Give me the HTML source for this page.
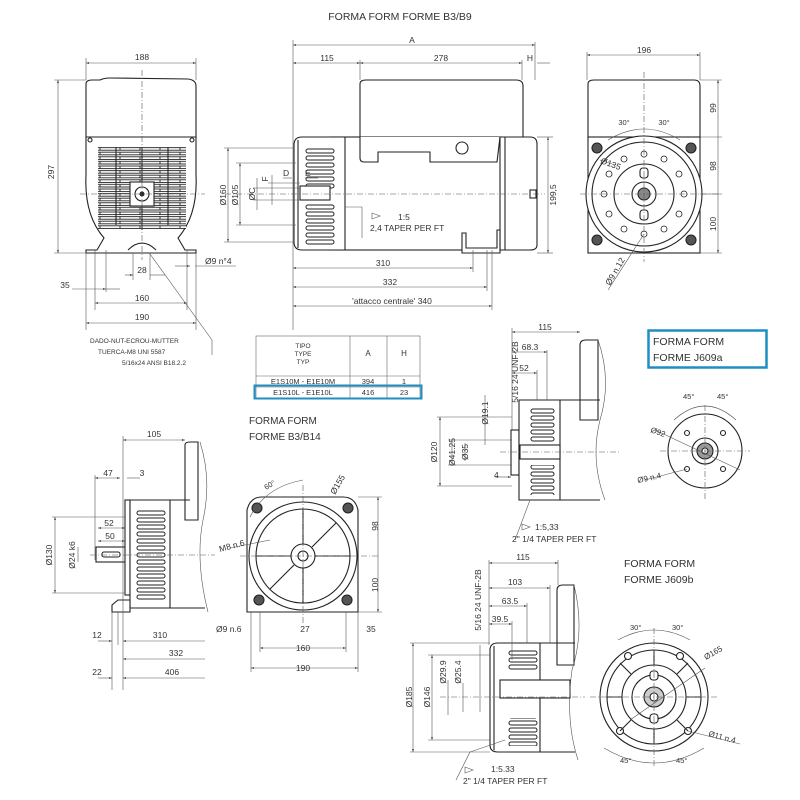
<!DOCTYPE html>
<html><head><meta charset="utf-8"><style>
html,body{margin:0;padding:0;background:#fff}
svg{display:block}
text{font-family:"Liberation Sans",sans-serif;fill:#333}
</style></head><body>
<svg width="800" height="800" viewBox="0 0 800 800" xmlns="http://www.w3.org/2000/svg">
<defs>
<pattern id="grille" x="0" y="147" width="20" height="4.6" patternUnits="userSpaceOnUse">
<rect x="0" y="0.6" width="20" height="2.6" fill="#fff" stroke="#222" stroke-width="0.9"/>
</pattern>
<pattern id="f305" x="305" y="148" width="30" height="7" patternUnits="userSpaceOnUse">
<rect x="1" y="1" width="28" height="4" rx="2" fill="#fff" stroke="#222" stroke-width="1"/>
</pattern>
<pattern id="f136" x="136" y="510" width="30" height="7" patternUnits="userSpaceOnUse">
<rect x="1" y="1" width="28" height="4" rx="2" fill="#fff" stroke="#222" stroke-width="1"/>
</pattern>
<pattern id="f530" x="530" y="408" width="25" height="7" patternUnits="userSpaceOnUse">
<rect x="1" y="1" width="23" height="4" rx="2" fill="#fff" stroke="#222" stroke-width="1"/>
</pattern>
<pattern id="f508" x="508" y="650" width="30" height="7" patternUnits="userSpaceOnUse">
<rect x="1" y="1" width="28" height="4" rx="2" fill="#fff" stroke="#222" stroke-width="1"/>
</pattern>
<marker id="a" viewBox="0 0 6 6" refX="6" refY="3" markerWidth="5" markerHeight="5" orient="auto-start-reverse"><path d="M0,1 L6,3 L0,5z" fill="#444"/></marker>
</defs>
<text x="400" y="20" font-size="10.5" text-anchor="middle">FORMA FORM FORME B3/B9</text>

<!-- ============ TOP LEFT VIEW ============ -->
<g stroke="#222" stroke-width="1.1" fill="#fff">
<path d="M86,84 Q86,80 92,80 L100,80 Q104,78 110,78 L188,79 Q196,80 196,86 L196,137 L86,137 Z"/>
<path d="M86,137 L196,137 L196,175 Q198,215 178,238 L185,250 L196,250 L196,253 L86,253 L86,250 L97,250 L104,238 Q84,215 86,175 Z"/>
<rect x="98" y="147" width="88" height="82" fill="url(#grille)" stroke="none"/>
<line x1="142" y1="147" x2="142" y2="230"/>
<line x1="116" y1="147" x2="116" y2="225"/>
<line x1="168" y1="147" x2="168" y2="225"/>
<rect x="130" y="182" width="24" height="24" fill="#fff"/>
<circle cx="142" cy="194" r="7"/><circle cx="142" cy="194" r="2" fill="#222"/>
<path d="M128,250 Q142,236 156,250" fill="#fff"/>
<circle cx="90" cy="140" r="2"/><circle cx="192" cy="140" r="2"/>
</g>
<g stroke="#555" stroke-width="0.6" fill="none">
<line x1="142" y1="70" x2="142" y2="260" stroke-dasharray="6,2,1,2"/>
<line x1="80" y1="194" x2="205" y2="194" stroke-dasharray="6,2,1,2"/>
<line x1="86" y1="63" x2="196" y2="63" marker-start="url(#a)" marker-end="url(#a)"/>
<line x1="86" y1="58" x2="86" y2="80"/><line x1="196" y1="58" x2="196" y2="80"/>
<line x1="58" y1="80" x2="58" y2="253" marker-start="url(#a)" marker-end="url(#a)"/>
<line x1="54" y1="80" x2="86" y2="80"/><line x1="54" y1="253" x2="86" y2="253"/>
<line x1="86" y1="253" x2="86" y2="330"/><line x1="196" y1="253" x2="196" y2="330"/>
<line x1="95" y1="250" x2="95" y2="310"/><line x1="187" y1="250" x2="187" y2="310"/>
<line x1="106" y1="250" x2="106" y2="292"/><line x1="133" y1="253" x2="133" y2="280"/><line x1="150" y1="253" x2="150" y2="280"/>
<line x1="86" y1="323" x2="196" y2="323" marker-start="url(#a)" marker-end="url(#a)"/>
<line x1="95" y1="303" x2="187" y2="303" marker-start="url(#a)" marker-end="url(#a)"/>
<line x1="72" y1="289" x2="106" y2="289" marker-end="url(#a)"/><line x1="106" y1="289" x2="120" y2="289"/>
<line x1="125" y1="275" x2="133" y2="275" marker-end="url(#a)"/><line x1="150" y1="275" x2="165" y2="275"/>
<line x1="175" y1="266" x2="190" y2="266" marker-end="url(#a)"/><line x1="195" y1="266" x2="236" y2="266"/>
<line x1="150" y1="254" x2="212" y2="340"/><line x1="212" y1="340" x2="212" y2="355"/>
</g>
<g font-size="8.5">
<text x="142" y="60" text-anchor="middle">188</text>
<text x="54" y="172" transform="rotate(-90 54 172)" text-anchor="middle">297</text>
<text x="205" y="264">Ø9 n°4</text>
<text x="142" y="273" text-anchor="middle">28</text>
<text x="65" y="288" text-anchor="middle">35</text>
<text x="142" y="301" text-anchor="middle">160</text>
<text x="142" y="320" text-anchor="middle">190</text>
</g>
<g font-size="6.5">
<text x="90" y="343">DADO-NUT-ECROU-MUTTER</text>
<text x="98" y="354">TUERCA-M8 UNI 5587</text>
<text x="122" y="365">5/16x24 ANSI B18.2.2</text>
</g>

<!-- ============ MAIN SIDE VIEW ============ -->
<g stroke="#222" stroke-width="1.1" fill="#fff">
<path d="M360,84 Q360,80 366,80 L516,80 Q523,80 523,86 L523,137 L360,137 Z"/>
<rect x="330" y="137" width="172" height="113"/>
<path d="M360,137 L360,158 Q360,162 364,162 L378,162 L378,152 L430,152 L430,162 L497,162 L500,137"/>
<circle cx="462" cy="148" r="6"/>
<path d="M500,137 L530,137 Q537,137 537,144 L537,245 Q537,250 530,250 L500,250 Z"/>
<line x1="505" y1="137" x2="505" y2="250"/>
<path d="M294,145 Q294,137 302,137 L345,137 L345,250 L302,250 Q294,250 294,242 Z"/>
<rect x="305" y="148" width="30" height="42" fill="url(#f305)" stroke="none"/>
<rect x="305" y="204" width="30" height="42" fill="url(#f305)" stroke="none"/>
<line x1="298" y1="140" x2="298" y2="248"/>
<rect x="300" y="186" width="30" height="14"/>
<path d="M462,250 L462,233 L466,233 L466,248 L497,248 L497,230 L500,230 L500,253 L462,253 Z"/>
<rect x="530" y="190" width="6" height="8"/>
</g>
<g stroke="#555" stroke-width="0.6" fill="none">
<line x1="225" y1="194" x2="545" y2="194" stroke-dasharray="6,2,1,2"/>
<line x1="293" y1="40" x2="293" y2="330"/>
<line x1="293" y1="45" x2="535" y2="45" marker-start="url(#a)" marker-end="url(#a)"/>
<line x1="535" y1="42" x2="535" y2="80"/>
<line x1="293" y1="63" x2="360" y2="63" marker-start="url(#a)" marker-end="url(#a)"/>
<line x1="360" y1="60" x2="360" y2="80"/>
<line x1="360" y1="63" x2="522" y2="63" marker-start="url(#a)" marker-end="url(#a)"/>
<line x1="522" y1="60" x2="522" y2="80"/>
<line x1="537" y1="63" x2="550" y2="63"/>
<line x1="293" y1="268" x2="473" y2="268" marker-start="url(#a)" marker-end="url(#a)"/>
<line x1="293" y1="287" x2="487" y2="287" marker-start="url(#a)" marker-end="url(#a)"/>
<line x1="293" y1="306" x2="492" y2="306" marker-start="url(#a)" marker-end="url(#a)"/>
<line x1="473" y1="250" x2="473" y2="272"/><line x1="487" y1="250" x2="487" y2="291"/><line x1="492" y1="250" x2="492" y2="310"/>
<line x1="548" y1="137" x2="548" y2="253" marker-start="url(#a)" marker-end="url(#a)"/>
<line x1="537" y1="137" x2="553" y2="137"/><line x1="537" y1="253" x2="553" y2="253"/>
<line x1="228" y1="148" x2="228" y2="242" marker-start="url(#a)" marker-end="url(#a)"/>
<line x1="224" y1="148" x2="294" y2="148"/><line x1="224" y1="242" x2="294" y2="242"/>
<line x1="240" y1="163" x2="240" y2="225" marker-start="url(#a)" marker-end="url(#a)"/>
<line x1="236" y1="163" x2="296" y2="163"/><line x1="236" y1="225" x2="296" y2="225"/>
<line x1="257" y1="178" x2="257" y2="210"/><line x1="253" y1="188" x2="300" y2="188"/><line x1="253" y1="200" x2="300" y2="200"/>
<line x1="272" y1="175" x2="272" y2="205"/><line x1="268" y1="183" x2="300" y2="183"/>
<line x1="283" y1="178" x2="292" y2="178"/><line x1="305" y1="178" x2="318" y2="178"/>
<line x1="345" y1="207" x2="362" y2="207"/><line x1="362" y1="207" x2="362" y2="238"/>
<path d="M372,213 L380,216 L372,219 Z"/>
</g>
<g font-size="8.5">
<text x="412" y="43" text-anchor="middle">A</text>
<text x="327" y="61" text-anchor="middle">115</text>
<text x="441" y="61" text-anchor="middle">278</text>
<text x="530" y="61" text-anchor="middle">H</text>
<text x="383" y="266" text-anchor="middle">310</text>
<text x="390" y="285" text-anchor="middle">332</text>
<text x="392" y="304" text-anchor="middle">'attacco centrale' 340</text>
<text x="556" y="195" transform="rotate(-90 556 195)" text-anchor="middle">199,5</text>
<text x="226" y="195" transform="rotate(-90 226 195)" text-anchor="middle">Ø160</text>
<text x="238" y="195" transform="rotate(-90 238 195)" text-anchor="middle">Ø105</text>
<text x="255" y="194" transform="rotate(-90 255 194)" text-anchor="middle">ØC</text>
<text x="268" y="179" transform="rotate(-90 268 179)" text-anchor="middle">F</text>
<text x="283" y="176">D</text><text x="305" y="176">E</text>
<text x="398" y="220">1:5</text>
<text x="370" y="231">2,4 TAPER PER FT</text>
</g>

<!-- ============ RIGHT END VIEW ============ -->
<g stroke="#222" stroke-width="1.1" fill="#fff">
<path d="M588,84 Q588,80 594,80 L694,80 Q700,80 700,86 L700,137 L588,137 Z"/>
<rect x="588" y="137" width="112" height="116"/>
<circle cx="644" cy="194" r="58"/>
<circle cx="644" cy="194" r="52"/>
<circle cx="644" cy="194" r="30"/>
<circle cx="644" cy="194" r="12"/>
<circle cx="644" cy="194" r="6" fill="#888"/>
<circle cx="597" cy="148" r="5" fill="#555"/><circle cx="691" cy="148" r="5" fill="#555"/>
<circle cx="597" cy="240" r="5" fill="#555"/><circle cx="691" cy="240" r="5" fill="#555"/>
<rect x="640" y="168" width="8" height="10" rx="3"/><rect x="640" y="210" width="8" height="10" rx="3"/>
</g>
<g fill="#fff" stroke="#222" stroke-width="0.8">
<circle cx="644" cy="154" r="3"/><circle cx="664" cy="159" r="3"/><circle cx="679" cy="174" r="3"/><circle cx="684" cy="194" r="3"/><circle cx="679" cy="214" r="3"/><circle cx="664" cy="229" r="3"/><circle cx="644" cy="234" r="3"/><circle cx="624" cy="229" r="3"/><circle cx="609" cy="214" r="3"/><circle cx="604" cy="194" r="3"/><circle cx="609" cy="174" r="3"/><circle cx="624" cy="159" r="3"/>
</g>
<g stroke="#555" stroke-width="0.6" fill="none">
<line x1="644" y1="72" x2="644" y2="262" stroke-dasharray="6,2,1,2"/>
<line x1="580" y1="194" x2="720" y2="194" stroke-dasharray="6,2,1,2"/>
<line x1="587" y1="55" x2="700" y2="55" marker-start="url(#a)" marker-end="url(#a)"/>
<line x1="587" y1="52" x2="587" y2="80"/><line x1="700" y1="52" x2="700" y2="80"/>
<line x1="718" y1="80" x2="718" y2="253" marker-start="url(#a)" marker-end="url(#a)"/>
<line x1="700" y1="80" x2="722" y2="80"/><line x1="700" y1="137" x2="722" y2="137"/><line x1="700" y1="194" x2="722" y2="194"/><line x1="700" y1="253" x2="722" y2="253"/>
<path d="M608,140 Q644,118 680,140"/>
<line x1="615" y1="165" x2="600" y2="160"/>
<line x1="644" y1="234" x2="608" y2="290"/>
</g>
<g font-size="8.5">
<text x="644" y="53" text-anchor="middle">196</text>
<text x="716" y="108" transform="rotate(-90 716 108)" text-anchor="middle">99</text>
<text x="716" y="166" transform="rotate(-90 716 166)" text-anchor="middle">98</text>
<text x="716" y="224" transform="rotate(-90 716 224)" text-anchor="middle">100</text>
<text x="624" y="125" text-anchor="middle" font-size="7.5">30°</text>
<text x="664" y="125" text-anchor="middle" font-size="7.5">30°</text>
<text x="600" y="163" transform="rotate(20 600 163)">Ø135</text>
<text x="610" y="286" transform="rotate(-60 610 286)">Ø9 n.12</text>
</g>

<!-- ============ TABLE ============ -->
<g stroke="#666" stroke-width="0.6" fill="none">
<rect x="256" y="336" width="164" height="62"/>
<line x1="350" y1="336" x2="350" y2="398"/><line x1="387" y1="336" x2="387" y2="398"/>
<line x1="256" y1="376" x2="420" y2="376"/><line x1="256" y1="387" x2="420" y2="387"/>
</g>
<rect x="254.5" y="385.5" width="167" height="13" fill="none" stroke="#1e8fc0" stroke-width="2"/>
<g font-size="6.5" text-anchor="middle">
<text x="303" y="348">TIPO</text><text x="303" y="356">TYPE</text><text x="303" y="364">TYP</text>
<text x="368" y="356" font-size="8">A</text><text x="404" y="356" font-size="8">H</text>
<text x="303" y="384" font-size="7.5">E1S10M - E1E10M</text><text x="368" y="384" font-size="7.5">394</text><text x="404" y="384" font-size="7.5">1</text>
<text x="303" y="395" font-size="7.5">E1S10L - E1E10L</text><text x="368" y="395" font-size="7.5">416</text><text x="404" y="395" font-size="7.5">23</text>
</g>

<!-- ============ B3/B14 ============ -->
<text x="249" y="424" font-size="10">FORMA FORM</text>
<text x="249" y="440" font-size="10">FORME B3/B14</text>
<g stroke="#222" stroke-width="1.1" fill="#fff">
<path d="M185,445 Q185,442 190,442 L198,442 L198,520 L185,520 Z"/>
<rect x="96" y="547" width="30" height="15"/>
<rect x="102" y="552" width="18" height="5" rx="2"/>
<rect x="125" y="500" width="5" height="95"/>
<path d="M130,500 L170,500 L170,608 L130,608 Z"/>
<rect x="136" y="510" width="30" height="90" fill="url(#f136)" stroke="none"/>
<path d="M112,612 L112,605 L118,600 L130,600 L130,612 Z"/>
<line x1="170" y1="500" x2="190" y2="500"/><line x1="170" y1="608" x2="205" y2="608"/>
</g>
<path d="M200,442 Q212,480 203,520 Q195,560 208,612" stroke="#555" stroke-width="0.6" fill="none"/>
<g stroke="#555" stroke-width="0.6" fill="none">
<line x1="90" y1="555" x2="215" y2="555" stroke-dasharray="6,2,1,2"/>
<line x1="123" y1="440" x2="185" y2="440" marker-start="url(#a)" marker-end="url(#a)"/>
<line x1="123" y1="436" x2="123" y2="690"/>
<line x1="95" y1="478" x2="120" y2="478" marker-start="url(#a)" marker-end="url(#a)"/>
<line x1="95" y1="475" x2="95" y2="560"/>
<line x1="127" y1="478" x2="140" y2="478"/>
<line x1="98" y1="528" x2="125" y2="528" marker-start="url(#a)" marker-end="url(#a)"/>
<line x1="98" y1="541" x2="125" y2="541" marker-start="url(#a)" marker-end="url(#a)"/>
<line x1="55" y1="517" x2="55" y2="593" marker-start="url(#a)" marker-end="url(#a)"/>
<line x1="52" y1="517" x2="125" y2="517"/><line x1="52" y1="593" x2="125" y2="593"/>
<line x1="78" y1="547" x2="78" y2="562"/>
<line x1="112" y1="612" x2="112" y2="690"/><line x1="118" y1="612" x2="118" y2="645"/>
<line x1="123" y1="659" x2="205" y2="659" marker-start="url(#a)"/>
<line x1="123" y1="641" x2="205" y2="641" marker-start="url(#a)"/>
<line x1="123" y1="678" x2="205" y2="678" marker-start="url(#a)"/>
<line x1="98" y1="641" x2="112" y2="641" marker-end="url(#a)"/>
<line x1="98" y1="678" x2="112" y2="678" marker-end="url(#a)"/>
</g>
<g font-size="8.5">
<text x="154" y="437" text-anchor="middle">105</text>
<text x="108" y="476" text-anchor="middle">47</text><text x="142" y="476" text-anchor="middle">3</text>
<text x="109" y="526" text-anchor="middle">52</text><text x="110" y="539" text-anchor="middle">50</text>
<text x="52" y="555" transform="rotate(-90 52 555)" text-anchor="middle">Ø130</text>
<text x="75" y="555" transform="rotate(-90 75 555)" text-anchor="middle">Ø24 k6</text>
<text x="97" y="638" text-anchor="middle">12</text><text x="160" y="638" text-anchor="middle">310</text>
<text x="176" y="656" text-anchor="middle">332</text>
<text x="97" y="675" text-anchor="middle">22</text><text x="172" y="675" text-anchor="middle">406</text>
</g>
<g stroke="#222" stroke-width="1.1" fill="#fff">
<path d="M247,510 Q250,497 262,497 L343,497 Q355,497 358,510 L358,612 L247,612 Z"/>
<circle cx="303" cy="556" r="54"/>
<circle cx="303" cy="556" r="47"/>
<circle cx="303" cy="556" r="12"/><circle cx="303" cy="556" r="5"/>
<circle cx="257" cy="508" r="5" fill="#555"/><circle cx="348" cy="508" r="5" fill="#555"/>
<circle cx="259" cy="600" r="5" fill="#555"/><circle cx="347" cy="600" r="5" fill="#555"/>
<path d="M303,544 L303,509 M315,556 L350,556 M303,568 L303,603 M291,556 L256,556 M312,547 L336,523 M294,565 L270,589"/>
</g>
<g stroke="#555" stroke-width="0.6" fill="none">
<line x1="303" y1="485" x2="303" y2="625" stroke-dasharray="6,2,1,2"/>
<line x1="240" y1="556" x2="380" y2="556" stroke-dasharray="6,2,1,2"/>
<path d="M250,517 Q265,487 303,480"/>
<line x1="378" y1="497" x2="378" y2="612" marker-start="url(#a)" marker-end="url(#a)"/>
<line x1="358" y1="497" x2="382" y2="497"/><line x1="358" y1="612" x2="382" y2="612"/>
<line x1="251" y1="612" x2="251" y2="672"/><line x1="358" y1="612" x2="358" y2="672"/>
<line x1="260" y1="612" x2="260" y2="652"/><line x1="346" y1="612" x2="346" y2="652"/>
<line x1="251" y1="668" x2="358" y2="668" marker-start="url(#a)" marker-end="url(#a)"/>
<line x1="260" y1="648" x2="346" y2="648" marker-start="url(#a)" marker-end="url(#a)"/>
<line x1="230" y1="548" x2="270" y2="540"/>
</g>
<g font-size="8.5">
<text x="266" y="490" font-size="7.5" transform="rotate(-30 266 490)">60°</text>
<text x="335" y="495" transform="rotate(-60 335 495)">Ø155</text>
<text x="220" y="552" transform="rotate(-15 220 552)">M8 n.6</text>
<text x="378" y="526" transform="rotate(-90 378 526)" text-anchor="middle">98</text>
<text x="378" y="585" transform="rotate(-90 378 585)" text-anchor="middle">100</text>
<text x="216" y="632">Ø9 n.6</text>
<text x="305" y="632" text-anchor="middle">27</text>
<text x="371" y="632" text-anchor="middle">35</text>
<text x="303" y="651" text-anchor="middle">160</text>
<text x="303" y="671" text-anchor="middle">190</text>
</g>

<!-- ============ J609a ============ -->
<rect x="648.5" y="330.5" width="118" height="37" fill="none" stroke="#1e8fc0" stroke-width="2.5"/>
<text x="653" y="345" font-size="10.5">FORMA FORM</text>
<text x="653" y="361" font-size="10.5">FORME J609a</text>
<g stroke="#222" stroke-width="1.1" fill="#fff">
<path d="M580,345 Q580,340 586,340 L598,340 L598,420 L580,420 Z"/>
<rect x="511" y="430" width="8" height="45"/>
<path d="M519,400 L560,400 L560,500 L519,500 Z"/>
<rect x="530" y="408" width="25" height="35" fill="url(#f530)" stroke="none"/>
<rect x="530" y="465" width="25" height="30" fill="url(#f530)" stroke="none"/>
<rect x="520" y="445" width="40" height="14"/>
<line x1="560" y1="400" x2="600" y2="400"/><line x1="560" y1="500" x2="600" y2="500"/>
</g>
<path d="M598,340 Q612,380 600,420 Q590,460 605,500" stroke="#555" stroke-width="0.6" fill="none"/>
<g stroke="#555" stroke-width="0.6" fill="none">
<line x1="500" y1="452" x2="620" y2="452" stroke-dasharray="6,2,1,2"/>
<line x1="512" y1="332" x2="580" y2="332" marker-start="url(#a)" marker-end="url(#a)"/>
<line x1="512" y1="328" x2="512" y2="430"/>
<line x1="512" y1="352" x2="547" y2="352" marker-start="url(#a)" marker-end="url(#a)"/><line x1="547" y1="350" x2="547" y2="400"/>
<line x1="512" y1="373" x2="537" y2="373" marker-start="url(#a)" marker-end="url(#a)"/><line x1="537" y1="370" x2="537" y2="400"/>
<line x1="440" y1="417" x2="440" y2="486" marker-start="url(#a)" marker-end="url(#a)"/>
<line x1="437" y1="417" x2="512" y2="417"/><line x1="437" y1="486" x2="512" y2="486"/>
<line x1="452" y1="440" x2="452" y2="465"/><line x1="448" y1="440" x2="512" y2="440"/><line x1="448" y1="465" x2="512" y2="465"/>
<line x1="465" y1="443" x2="465" y2="461"/>
<line x1="485" y1="395" x2="485" y2="445"/>
<line x1="495" y1="477" x2="511" y2="477" marker-end="url(#a)"/>
<line x1="530" y1="500" x2="515" y2="540"/>
<path d="M522,524 L530,527 L522,530 Z"/>
</g>
<g font-size="8.5">
<text x="545" y="330" text-anchor="middle">115</text>
<text x="530" y="350" text-anchor="middle">68.3</text>
<text x="524" y="371" text-anchor="middle">52</text>
<text x="518" y="372" transform="rotate(-90 518 372)" text-anchor="middle">5/16 24 UNF-2B</text>
<text x="488" y="413" transform="rotate(-90 488 413)" text-anchor="middle">Ø19.1</text>
<text x="437" y="452" transform="rotate(-90 437 452)" text-anchor="middle">Ø120</text>
<text x="455" y="452" transform="rotate(-90 455 452)" text-anchor="middle">Ø41.25</text>
<text x="468" y="452" transform="rotate(-90 468 452)" text-anchor="middle">Ø35</text>
<text x="494" y="478">4</text>
<text x="535" y="530">1:5,33</text>
<text x="512" y="542">2" 1/4 TAPER PER FT</text>
</g>
<g stroke="#222" stroke-width="1.1" fill="#fff">
<circle cx="705" cy="451" r="37"/>
<circle cx="705" cy="451" r="13"/><circle cx="705" cy="451" r="8" fill="#999"/><circle cx="705" cy="451" r="3"/>
<circle cx="687" cy="433" r="2.5"/><circle cx="723" cy="433" r="2.5"/><circle cx="687" cy="469" r="2.5"/><circle cx="723" cy="469" r="2.5"/>
</g>
<g stroke="#555" stroke-width="0.6" fill="none">
<line x1="705" y1="405" x2="705" y2="500" stroke-dasharray="6,2,1,2"/>
<line x1="660" y1="451" x2="750" y2="451" stroke-dasharray="6,2,1,2"/>
<path d="M674,420 Q705,392 736,420"/>
<line x1="655" y1="430" x2="740" y2="470"/>
<line x1="645" y1="480" x2="687" y2="469"/>
</g>
<g font-size="8">
<text x="683" y="399" font-size="7.5">45°</text><text x="717" y="399" font-size="7.5">45°</text>
<text x="650" y="432" transform="rotate(20 650 432)">Ø92</text>
<text x="638" y="483" transform="rotate(-12 638 483)">Ø9 n.4</text>
</g>

<!-- ============ J609b ============ -->
<text x="624" y="567" font-size="10.5">FORMA FORM</text>
<text x="624" y="583" font-size="10.5">FORME J609b</text>
<g stroke="#222" stroke-width="1.1" fill="#fff">
<path d="M557,590 Q557,585 563,585 L574,585 L574,665 L557,665 Z"/>
<path d="M498,643 L540,643 L540,752 L498,752 Q490,752 490,745 L490,650 Q490,643 498,643 Z"/>
<line x1="494" y1="646" x2="494" y2="750"/>
<rect x="500" y="680" width="70" height="18"/>
<rect x="508" y="650" width="30" height="20" fill="url(#f508)" stroke="none"/>
<rect x="508" y="718" width="30" height="28" fill="url(#f508)" stroke="none"/>
<line x1="540" y1="643" x2="575" y2="643"/><line x1="540" y1="752" x2="575" y2="752"/>
</g>
<path d="M574,585 Q585,630 572,670 Q565,720 578,760" stroke="#555" stroke-width="0.6" fill="none"/>
<g stroke="#555" stroke-width="0.6" fill="none">
<line x1="440" y1="697" x2="585" y2="697" stroke-dasharray="6,2,1,2"/>
<line x1="489" y1="563" x2="558" y2="563" marker-start="url(#a)" marker-end="url(#a)"/>
<line x1="489" y1="560" x2="489" y2="645"/><line x1="558" y1="560" x2="558" y2="585"/>
<line x1="489" y1="588" x2="550" y2="588" marker-start="url(#a)" marker-end="url(#a)"/><line x1="550" y1="585" x2="550" y2="643"/>
<line x1="489" y1="606" x2="527" y2="606" marker-start="url(#a)" marker-end="url(#a)"/><line x1="527" y1="603" x2="527" y2="643"/>
<line x1="489" y1="624" x2="512" y2="624" marker-start="url(#a)" marker-end="url(#a)"/><line x1="512" y1="621" x2="512" y2="660"/>
<line x1="413" y1="643" x2="413" y2="752" marker-start="url(#a)" marker-end="url(#a)"/>
<line x1="410" y1="643" x2="490" y2="643"/><line x1="410" y1="752" x2="490" y2="752"/>
<line x1="432" y1="655" x2="432" y2="740" marker-start="url(#a)" marker-end="url(#a)"/>
<line x1="428" y1="655" x2="490" y2="655"/><line x1="428" y1="740" x2="490" y2="740"/>
<line x1="448" y1="680" x2="448" y2="715"/><line x1="463" y1="683" x2="463" y2="712"/>
<line x1="480" y1="645" x2="480" y2="712"/>
<line x1="470" y1="752" x2="456" y2="780"/><line x1="505" y1="740" x2="470" y2="752"/>
<path d="M465,767 L473,770 L465,773 Z"/>
</g>
<g font-size="8.5">
<text x="523" y="560" text-anchor="middle">115</text>
<text x="515" y="585" text-anchor="middle">103</text>
<text x="510" y="604" text-anchor="middle">63.5</text>
<text x="500" y="622" text-anchor="middle">39.5</text>
<text x="481" y="600" transform="rotate(-90 481 600)" text-anchor="middle">5/16 24 UNF-2B</text>
<text x="412" y="697" transform="rotate(-90 412 697)" text-anchor="middle">Ø185</text>
<text x="430" y="697" transform="rotate(-90 430 697)" text-anchor="middle">Ø146</text>
<text x="446" y="672" transform="rotate(-90 446 672)" text-anchor="middle">Ø29.9</text>
<text x="461" y="672" transform="rotate(-90 461 672)" text-anchor="middle">Ø25.4</text>
<text x="491" y="772">1:5.33</text>
<text x="463" y="784">2" 1/4 TAPER PER FT</text>
</g>
<g stroke="#222" stroke-width="1.1" fill="#fff">
<circle cx="654" cy="697" r="54"/>
<circle cx="654" cy="697" r="47"/>
<circle cx="654" cy="697" r="32"/>
<circle cx="654" cy="697" r="22"/>
<circle cx="654" cy="697" r="10" fill="#ccc"/><circle cx="654" cy="697" r="4"/>
<circle cx="628" cy="656" r="3.5"/><circle cx="680" cy="656" r="3.5"/><circle cx="620" cy="731" r="3.5"/><circle cx="688" cy="731" r="3.5"/>
<path d="M654,650 L654,665 M654,729 L654,744 M607,697 L622,697 M686,697 L701,697 M620,663 L631,674 M688,663 L677,674 M620,731 L631,720 M688,731 L677,720"/>
<rect x="650" y="671" width="8" height="9" rx="3"/><rect x="650" y="714" width="8" height="9" rx="3"/>
</g>
<g stroke="#555" stroke-width="0.6" fill="none">
<line x1="654" y1="628" x2="654" y2="768" stroke-dasharray="6,2,1,2"/>
<line x1="590" y1="697" x2="718" y2="697" stroke-dasharray="6,2,1,2"/>
<path d="M618,640 Q654,620 690,640"/>
<path d="M604,748 Q654,778 704,748"/>
<line x1="630" y1="720" x2="705" y2="668"/>
<line x1="688" y1="731" x2="740" y2="744"/>
</g>
<g font-size="8">
<text x="630" y="630" font-size="7.5">30°</text><text x="672" y="630" font-size="7.5">30°</text>
<text x="620" y="763" font-size="7.5">45°</text><text x="676" y="763" font-size="7.5">45°</text>
<text x="706" y="660" transform="rotate(-30 706 660)">Ø165</text>
<text x="708" y="736" transform="rotate(15 708 736)">Ø11 n.4</text>
</g>
</svg>
</body></html>
